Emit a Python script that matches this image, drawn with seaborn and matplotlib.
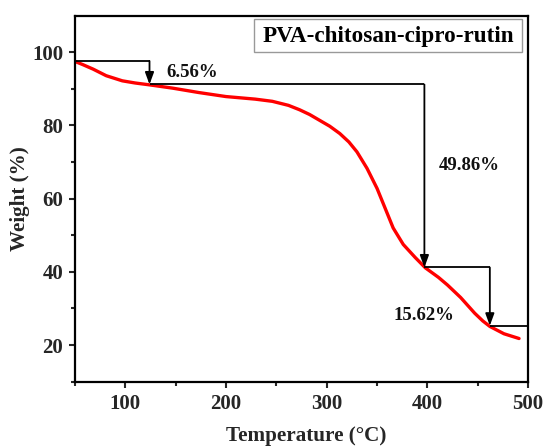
import matplotlib
matplotlib.use("Agg")
import matplotlib.pyplot as plt
from matplotlib.patches import Rectangle
import seaborn as sns
import pandas as pd

# ---- data ----
temperature = [50, 58, 68, 81, 97, 110, 124, 147, 173, 200, 229, 246, 262, 273,
               283, 293, 303, 313, 322, 330, 340, 350, 358, 366, 376, 388, 398,
               411, 420, 433, 447, 455, 462, 476, 491]
weight = [97.5, 96.6, 95.4, 93.6, 92.2, 91.6, 91.1, 90.2, 89.0, 87.9, 87.2, 86.6,
          85.5, 84.3, 83.0, 81.4, 79.8, 77.8, 75.5, 72.8, 68.3, 62.8, 57.4, 52.0,
          47.5, 43.9, 41.1, 38.5, 36.4, 33.0, 28.7, 26.6, 25.1, 23.1, 21.8]

step_temps = [50, 124, 397, 462, 499]
step_levels = [97.6, 91.2, 41.2, 25.3]
loss_labels = ["6.56%", "49.86%", "15.62%"]
sample_name = "PVA-chitosan-cipro-rutin"

x_ticks = [100, 200, 300, 400, 500]
y_ticks = [20, 40, 60, 80, 100]

sns.set_theme(style="white")
plt.rcParams['font.family'] = ['Liberation Serif', 'DejaVu Serif']
plt.rcParams['font.weight'] = 'bold'

fig = plt.figure(figsize=(5.45, 4.48), dpi=100)
ax = fig.add_axes([0.1376, 0.148, 0.8314, 0.817])

df = pd.DataFrame({"Temperature": temperature, "Weight": weight})
sns.lineplot(data=df, x="Temperature", y="Weight", ax=ax, color="#ff0000",
             linewidth=2.4, sort=False)

# step annotations
lw = 1.3
for i in range(len(step_levels)):
    ax.plot([step_temps[i], step_temps[i + 1]], [step_levels[i], step_levels[i]],
            color="black", linewidth=lw, solid_capstyle="butt")
    if i < len(step_levels) - 1:
        ax.annotate("", xy=(step_temps[i + 1], step_levels[i + 1]),
                    xytext=(step_temps[i + 1], step_levels[i]),
                    arrowprops=dict(arrowstyle="-|>,head_length=0.6,head_width=0.22",
                                    color="black", lw=lw, shrinkA=0, shrinkB=0))

label_pos = [(166, 94.5), (442, 69.2), (397, 28.0)]
for lab, (tx, ty) in zip(loss_labels, label_pos):
    ax.text(tx, ty, lab, ha="center", va="center", fontsize=13.5, fontweight="bold",
            color="#111111")

ax.add_patch(Rectangle((0.396, 0.901), 0.590, 0.091, transform=ax.transAxes,
                       facecolor="white", edgecolor="#999999", linewidth=1.0, zorder=4))
ax.text(0.691, 0.944, sample_name, transform=ax.transAxes, ha="center", va="center",
        fontsize=16.7, fontweight="bold", color="black", zorder=5)

ax.set_xlim(50, 500)
ax.set_ylim(10, 110)
ax.set_xticks(x_ticks)
ax.set_yticks(y_ticks)
ax.set_xticks([50, 150, 250, 350, 450], minor=True)
ax.set_yticks([10, 30, 50, 70, 90], minor=True)
ax.tick_params(which="major", direction="out", length=4.5, width=1.5, labelsize=15,
               bottom=True, left=True, top=False, right=False, pad=4)
ax.tick_params(which="minor", direction="out", length=3, width=1.5,
               bottom=True, left=True, top=False, right=False)
for lab in ax.get_xticklabels() + ax.get_yticklabels():
    lab.set_fontweight("bold")

for s in ax.spines.values():
    s.set_visible(True)
    s.set_color("black")
    s.set_linewidth(1.6)

ax.set_xlabel("Temperature (°C)", fontsize=15.2, fontweight="bold")
ax.set_ylabel("Weight (%)", fontsize=15.2, fontweight="bold")
ax.xaxis.set_label_coords(0.51, -0.148)
ax.yaxis.set_label_coords(-0.121, 0.5)
ax.xaxis.label.set_va("center")
ax.yaxis.label.set_va("center")

fig.savefig("out.png", dpi=100)
